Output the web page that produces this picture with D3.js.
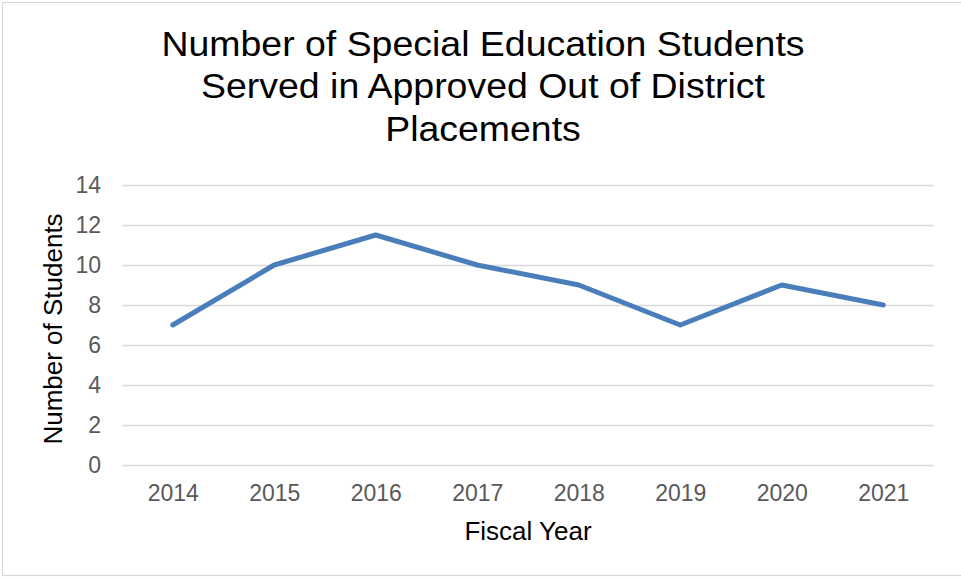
<!DOCTYPE html>
<html>
<head>
<meta charset="utf-8">
<script src="https://cdn.jsdelivr.net/npm/d3@7"></script>
<style>
  html, body { margin: 0; padding: 0; background: #fff; }
  svg { display: block; font-family: "Liberation Sans", Arial, sans-serif; }
</style>
</head>
<body>
<svg id="chart" width="961" height="578"></svg>
<script>
// Fiscal years and the number of students served in each
const years = ["2014", "2015", "2016", "2017", "2018", "2019", "2020", "2021"];
const students = [7, 10, 11.5, 10, 9, 7, 9, 8];
const yTicks = [0, 2, 4, 6, 8, 10, 12, 14];
const titleLines = [
  "Number of Special Education Students",
  "Served in Approved Out of District",
  "Placements"
];

const svg = d3.select("#chart");
const W = 961, H = 578;
const plot = { left: 122, right: 934, top: 185, bottom: 465 };
const FONT = "Liberation Sans, Arial, sans-serif";

// outer chart border (right edge runs past the frame)
svg.append("rect")
  .attr("x", 2.5).attr("y", 2.5)
  .attr("width", W + 10).attr("height", H - 5)
  .attr("fill", "#fff")
  .attr("stroke", "#d9d9d9")
  .attr("stroke-width", 1.2);

const x = d3.scalePoint().domain(years)
  .range([plot.left, plot.right]).padding(0.5);
const y = d3.scaleLinear().domain([0, 14])
  .range([plot.bottom, plot.top]);

// horizontal gridlines
svg.append("g")
  .attr("transform", `translate(${plot.left},0)`)
  .call(d3.axisLeft(y).tickValues(yTicks).tickSize(-(plot.right - plot.left)).tickFormat(""))
  .call(g => g.select(".domain").remove())
  .call(g => g.selectAll(".tick line").attr("stroke", "#d9d9d9").attr("stroke-width", 1.3));

// y tick labels
svg.append("g")
  .attr("transform", `translate(${plot.left},0)`)
  .call(d3.axisLeft(y).tickValues(yTicks).tickSize(0).tickPadding(21))
  .call(g => g.select(".domain").remove())
  .call(g => g.selectAll("text")
    .attr("fill", "#595959").attr("font-size", 23)
    .attr("font-family", FONT));

// x tick labels
svg.append("g")
  .attr("transform", `translate(0,${plot.bottom})`)
  .call(d3.axisBottom(x).tickSize(0).tickPadding(20))
  .call(g => g.select(".domain").remove())
  .call(g => g.selectAll("text")
    .attr("fill", "#595959").attr("font-size", 23)
    .attr("font-family", FONT));

// data line
const line = d3.line()
  .x((d, i) => x(years[i]))
  .y(d => y(d));

svg.append("path")
  .datum(students)
  .attr("d", line)
  .attr("fill", "none")
  .attr("stroke", "#4a7ebb")
  .attr("stroke-width", 5)
  .attr("stroke-linejoin", "round")
  .attr("stroke-linecap", "round");

// title, slightly widened
svg.append("text")
  .attr("transform", "translate(483,0) scale(1.07,1)")
  .attr("text-anchor", "middle")
  .attr("font-size", 35)
  .attr("fill", "#000")
  .selectAll("tspan")
  .data(titleLines)
  .join("tspan")
  .attr("x", 0)
  .attr("y", (d, i) => 56 + i * 42.5)
  .text(d => d);

// axis titles
svg.append("text")
  .attr("x", (plot.left + plot.right) / 2)
  .attr("y", 540)
  .attr("text-anchor", "middle")
  .attr("font-size", 26)
  .attr("fill", "#000")
  .text("Fiscal Year");

svg.append("text")
  .attr("transform", "translate(62,329) rotate(-90)")
  .attr("text-anchor", "middle")
  .attr("font-size", 26)
  .attr("fill", "#000")
  .text("Number of Students");
</script>
</body>
</html>
